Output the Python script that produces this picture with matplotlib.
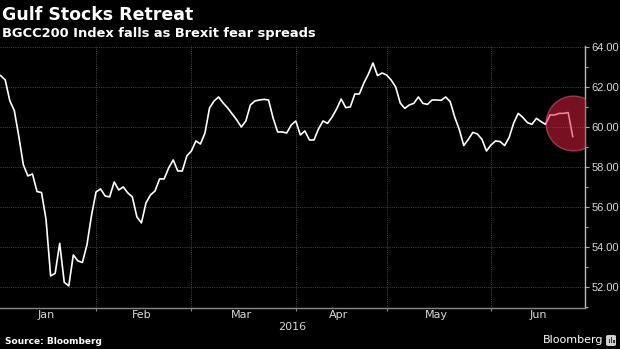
import numpy as np
import pandas as pd
import matplotlib
matplotlib.use("Agg")
import matplotlib.pyplot as plt
from matplotlib.ticker import FixedLocator, MultipleLocator, FuncFormatter
from matplotlib.patches import FancyBboxPatch

# BGCC200 index, one value per Gulf trading day (Sun-Thu), 3 Jan - 27 Jun 2016
values = [
    62.57, 62.35, 61.32, 60.82, 59.52, 58.10, 57.55, 57.65, 56.77, 56.72,
    55.35, 52.55, 52.68, 54.18, 52.23, 52.05, 53.60, 53.30, 53.22, 54.10,
    55.57, 56.75, 56.90, 56.55, 56.50, 57.25, 56.85, 57.00, 56.70, 56.50,
    55.50, 55.20, 56.20, 56.60, 56.80, 57.40, 57.40, 57.95, 58.35, 57.80,
    57.80, 58.55, 58.80, 59.30, 59.15, 59.70, 60.95, 61.30, 61.50, 61.20,
    60.95, 60.65, 60.35, 60.00, 60.30, 61.10, 61.30, 61.35, 61.38, 61.35,
    60.45, 59.75, 59.75, 59.70, 60.10, 60.30, 59.60, 59.80, 59.35, 59.35,
    59.90, 60.30, 60.18, 60.50, 60.90, 61.40, 60.97, 61.00, 61.65, 61.65,
    62.20, 62.65, 63.20, 62.57, 62.70, 62.60, 62.35, 62.00, 61.20, 60.93,
    61.10, 61.18, 61.50, 61.18, 61.13, 61.35, 61.35, 61.33, 61.50, 61.27,
    60.50, 59.88, 59.07, 59.38, 59.73, 59.65, 59.38, 58.80, 59.10, 59.30,
    59.27, 59.07, 59.48, 60.20, 60.68, 60.48, 60.22, 60.13, 60.43, 60.27,
    60.13, 60.60, 60.60, 60.68, 60.68, 60.72, 59.52,
]
month_names = ["Jan", "Feb", "Mar", "Apr", "May", "Jun"]
y_ticks = [52, 54, 56, 58, 60, 62, 64]
highlight_level = 60.2   # centre of the red "Brexit" circle

title = "Gulf Stocks Retreat"
subtitle = "BGCC200 Index falls as Brexit fear spreads"
source = "Source: Bloomberg"

# trading calendar for the whole half year, x is the trading-day index
calendar = pd.bdate_range("2016-01-03", "2016-06-30", freq="C",
                          weekmask="Sun Mon Tue Wed Thu")
x = np.arange(len(values))
month_starts = [i for i in range(len(calendar))
                if i == 0 or calendar[i].month != calendar[i - 1].month]
month_edges = month_starts + [len(calendar)]
month_mids = [(month_edges[k] + month_edges[k + 1]) / 2 - 0.5 for k in range(len(month_names))]

fig = plt.figure(figsize=(6.2, 3.49), dpi=100, facecolor="black")
ax = fig.add_axes([0.0, 1 - 307.5 / 349, 585 / 620, (307.5 - 46) / 349])
ax.set_facecolor("black")

ax.plot(x, values, color="white", lw=1.2, zorder=3)

# highlight circle on the last day
ax.scatter([x[-1]], [highlight_level], s=1560, marker="o",
           facecolor=(0.86, 0.12, 0.24, 0.55),
           edgecolor=(1.0, 0.45, 0.55, 0.45), lw=1.0, zorder=4, clip_on=True)

ax.set_xlim(-0.15, 128.7)
ax.set_ylim(50.97, 64.05)

# y axis on the right
ax.yaxis.tick_right()
ax.yaxis.set_major_locator(FixedLocator(y_ticks))
ax.yaxis.set_minor_locator(MultipleLocator(1))
ax.yaxis.set_major_formatter(FuncFormatter(lambda v, p: f"{v:.2f}"))
ax.tick_params(axis="y", which="major", length=3, width=0.8, color="#aaaaaa",
               labelcolor="#d8d8d8", labelsize=8, pad=1.5)
ax.tick_params(axis="y", which="minor", length=2.5, width=0.8, color="#aaaaaa")
for lab in ax.get_yticklabels():
    lab.set_fontfamily("Liberation Sans")

# x axis: ticks at month starts, labels at month middles
ax.xaxis.set_major_locator(FixedLocator(month_starts[1:]))
ax.xaxis.set_major_formatter(FuncFormatter(lambda v, p: ""))
ax.xaxis.set_minor_locator(FixedLocator(month_mids))
ax.xaxis.set_minor_formatter(FuncFormatter(
    lambda v, p: month_names[p] if p < len(month_names) else ""))
ax.tick_params(axis="x", which="major", length=2.5, width=0.8, color="#888888")
ax.tick_params(axis="x", which="minor", length=0, labelcolor="#d8d8d8",
               labelsize=8, pad=2)
ax.set_xlabel("2016", color="#d8d8d8", fontsize=8, labelpad=1)

ax.grid(True, which="major", color="#454545", lw=0.7, ls=(0, (1, 1.2)))

for side in ["top", "left"]:
    ax.spines[side].set_visible(False)
ax.spines["bottom"].set_color("#8a8a8a")
ax.spines["right"].set_color("#bbbbbb")
ax.spines["bottom"].set_linewidth(1.0)
ax.spines["right"].set_linewidth(1.0)

# titles and footer
fig.text(2 / 620, 1 - 20 / 349, title, color="white", fontsize=12.5,
         fontweight="bold", va="baseline", ha="left")
fig.text(2 / 620, 1 - 37 / 349, subtitle, color="white", fontsize=9.4,
         fontweight="bold", va="baseline", ha="left")
fig.text(5 / 620, 1 - 341 / 349, source, color="white", fontsize=6.5,
         fontweight="bold", va="center", ha="left")
fig.text(603 / 620, 1 - 340 / 349, "Bloomberg", color="white", fontsize=8,
         va="center", ha="right")

# little Bloomberg terminal logo
logo = FancyBboxPatch((606 / 620, 1 - 346 / 349), 10 / 620, 11 / 349,
                      boxstyle="round,pad=0,rounding_size=0.004",
                      transform=fig.transFigure, facecolor="#cfcfcf",
                      edgecolor="none")
fig.patches.append(logo)
for bx, bh in zip([608.5, 610.8, 613.1], [4, 6, 3]):
    fig.patches.append(plt.Rectangle((bx / 620, 1 - 343 / 349), 1.6 / 620, bh / 349,
                                     transform=fig.transFigure,
                                     facecolor="#333333", edgecolor="none"))

fig.savefig("out.png", dpi=100, facecolor="black")
